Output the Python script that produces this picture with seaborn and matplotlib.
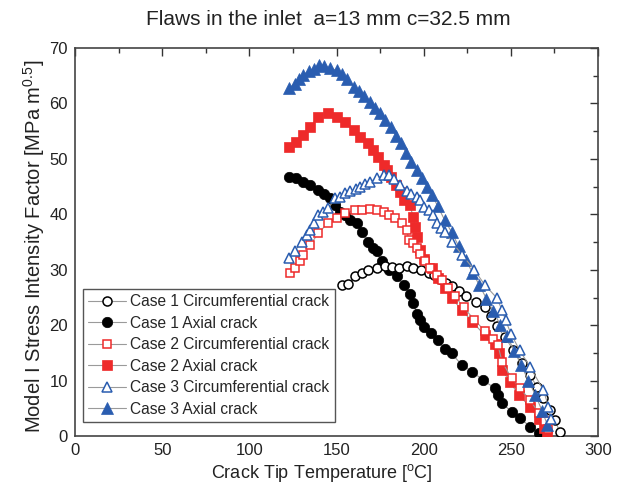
import matplotlib
matplotlib.use("Agg")
import matplotlib.pyplot as plt
from matplotlib.ticker import MultipleLocator
import seaborn as sns
import pandas as pd

# Case 1 circumferential crack
c1_circ_T = [153, 156.8, 160.6, 164.5, 168.3, 173, 178, 182, 186, 190.3, 194, 198.5, 203, 206,
             209.5, 213, 216.5, 220, 224.5, 230, 235, 238.5, 242, 246.5, 251.5, 256.3, 261, 265,
             268.7, 272.5, 275.5, 278]
c1_circ_K = [27.3, 27.4, 28.8, 29.4, 29.9, 30.3, 30.6, 30.5, 30.4, 30.6, 30.3, 30.0, 29.4, 29.0,
             28.3, 27.6, 27.0, 26.2, 25.2, 24.2, 23.2, 21.6, 19.8, 17.9, 15.5, 13.1, 11.0, 8.9,
             6.8, 4.7, 2.9, 0.7]

# Case 1 axial crack
c1_ax_T = [123, 127, 131, 135, 139.5, 143, 146, 149, 152, 155, 158, 161.5, 164.5, 168, 171, 173,
           176, 180, 184.5, 188.5, 192, 194, 196, 198, 200, 204, 208, 212, 216, 222, 228, 234,
           241, 242.5, 245, 250.5, 255.5, 261, 266]
c1_ax_K = [46.8, 46.5, 45.9, 45.3, 44.4, 43.7, 43.0, 41.6, 40.5, 39.8, 39.0, 38.4, 36.9, 35.1,
           34.0, 33.3, 31.5, 30.0, 28.8, 27.3, 25.6, 24.0, 22.1, 20.9, 19.7, 18.6, 17.4, 15.7,
           14.9, 12.8, 11.6, 10.1, 8.6, 7.4, 5.9, 4.4, 3.2, 1.7, 0.5]

# Case 2 circumferential crack
c2_circ_T = [123.3, 126, 129, 131, 135, 139.5, 145, 150, 155, 160.5, 164.5, 169, 173, 177, 180,
             183.5, 187.5, 190.3, 191.5, 194, 196, 198, 201, 203.7, 207.5, 210.5, 214, 218, 223,
             229, 235, 240, 242.5, 245, 250.5, 255.3, 261, 266, 269.5, 271.5]
c2_circ_K = [29.4, 30.3, 31.5, 32.7, 34.5, 36.6, 38.4, 39.3, 40.2, 40.8, 40.8, 40.9, 40.8, 40.5,
             39.9, 39.3, 38.4, 37.2, 35.4, 34.8, 33.9, 32.8, 31.5, 30.3, 29.1, 28.2, 26.8, 25.2,
             23.2, 21.0, 19.0, 17.5, 16.5, 13.4, 10.4, 8.6, 6.5, 4.2, 2.8, 1.2]

# Case 2 axial crack
c2_ax_T = [123, 127, 131, 135, 139.5, 145, 150, 155, 160, 163.5, 168, 171, 174, 177, 179, 181.5,
           184, 186.5, 189, 192, 194, 195, 196, 198, 200, 204.5, 208.5, 212.5, 216, 222, 228, 235,
           241, 243, 245, 249.5, 254.5, 261, 266, 269, 270.5]
c2_ax_K = [52.2, 53.1, 54.3, 55.8, 57.6, 58.2, 57.6, 56.7, 55.2, 54.0, 52.8, 51.6, 50.4, 48.9,
           48.0, 46.8, 45.3, 44.0, 42.6, 41.7, 39.6, 37.8, 36.0, 33.6, 32.0, 30.3, 28.5, 26.7,
           24.9, 22.7, 20.6, 18.2, 16.7, 14.9, 11.9, 9.8, 7.4, 5.3, 3.0, 1.5, 0.3]

# Case 3 circumferential crack
c3_circ_T = [122.5, 126, 130, 133, 134.8, 137, 139.6, 142.5, 145.3, 149.2, 152, 155, 158, 161,
             163.5, 166.5, 169.2, 173, 177, 180, 183, 186.5, 190.3, 193, 196, 198, 200, 203,
             205.6, 207.5, 210, 212.3, 216, 222, 229, 235, 242, 245, 247, 250, 255, 261, 268.7,
             271.6, 273]
c3_circ_K = [32.1, 33.3, 35.1, 36.2, 37.2, 38.5, 39.9, 40.4, 41.1, 42.9, 43.2, 43.8, 44.2, 44.6,
             45.0, 45.4, 45.9, 46.5, 47.1, 47.1, 46.3, 45.3, 44.2, 43.6, 43.2, 42.6, 41.4, 40.8,
             39.9, 38.4, 37.6, 36.9, 35.1, 32.7, 30.0, 27.3, 24.9, 22.7, 20.9, 18.5, 15.5, 12.5,
             8.3, 5.3, 3.0]

# Case 3 axial crack
c3_ax_T = [123, 126, 128.5, 131, 134, 137, 140, 143, 146, 150, 153, 156, 160, 163, 166, 169, 172,
           175, 178, 181, 184, 187, 190, 193, 196, 199, 202, 205, 208, 212, 216, 220, 224, 228,
           232, 236, 240, 244, 248, 252, 256, 260, 264, 268, 271]
c3_ax_K = [62.8, 63.6, 64.4, 65.2, 65.8, 66.3, 67.0, 66.8, 66.4, 66.0, 65.3, 64.5, 63.0, 62.2,
           61.4, 60.3, 59.2, 58.2, 57.0, 55.8, 54.2, 52.9, 51.0, 49.5, 48.0, 46.6, 45.0, 43.4,
           41.5, 39.0, 36.8, 34.3, 31.8, 29.5, 27.2, 24.8, 22.5, 20.0, 18.0, 15.3, 12.8, 10.0,
           7.5, 4.5, 2.0]

labels = ["Case 1 Circumferential crack", "Case 1 Axial crack",
          "Case 2 Circumferential crack", "Case 2 Axial crack",
          "Case 3 Circumferential crack", "Case 3 Axial crack"]

series = [
    (c1_circ_T, c1_circ_K), (c1_ax_T, c1_ax_K),
    (c2_circ_T, c2_circ_K), (c2_ax_T, c2_ax_K),
    (c3_circ_T, c3_circ_K), (c3_ax_T, c3_ax_K),
]

black = "#000000"
red = "#ee2a2a"
blue = "#2a5db0"
styles = [
    dict(marker="o", ms=6.5, mfc="white", mec=black, mew=1.1),
    dict(marker="o", ms=7.5, mfc=black, mec=black, mew=0.5),
    dict(marker="s", ms=6.0, mfc="white", mec=red, mew=1.1),
    dict(marker="s", ms=6.5, mfc=red, mec=red, mew=0.5),
    dict(marker="^", ms=7.5, mfc="white", mec=blue, mew=1.1),
    dict(marker="^", ms=8.0, mfc=blue, mec=blue, mew=0.5),
]
# axial series underneath, circumferential on top
zorders = [4, 3, 6, 5, 8, 7]

frames = []
for lab, (t, k) in zip(labels, series):
    frames.append(pd.DataFrame({"T": t, "K": k, "series": lab}))
df = pd.concat(frames, ignore_index=True)

sns.set_style("white")
plt.rcParams["font.family"] = ["Liberation Sans", "DejaVu Sans"]
plt.rcParams["mathtext.fontset"] = "custom"
plt.rcParams["mathtext.rm"] = "Liberation Sans"

fig = plt.figure(figsize=(6.17, 4.90), dpi=100)
ax = fig.add_axes([0.1216, 0.110, 0.8476, 0.792])

for lab, st, z in zip(labels, styles, zorders):
    sub = df[df["series"] == lab]
    sns.lineplot(data=sub, x="T", y="K", ax=ax, sort=False, estimator=None,
                 color="#9a9a9a", lw=0.8, marker=st["marker"], markersize=st["ms"],
                 markerfacecolor=st["mfc"], markeredgecolor=st["mec"],
                 markeredgewidth=st["mew"], label=lab, zorder=z)

ax.set_xlim(0, 300)
ax.set_ylim(0, 70)
ax.xaxis.set_major_locator(MultipleLocator(50))
ax.xaxis.set_minor_locator(MultipleLocator(25))
ax.yaxis.set_major_locator(MultipleLocator(10))
ax.yaxis.set_minor_locator(MultipleLocator(5))
ax.tick_params(which="both", direction="in", top=True, right=True, colors="#333333",
               labelcolor="#222222", labelsize=12)
ax.tick_params(which="major", length=6, width=1.0, pad=5)
ax.tick_params(which="minor", length=3.5, width=1.0)
for sp in ax.spines.values():
    sp.set_color("#444444")
    sp.set_linewidth(1.2)

ax.set_xlabel(r"Crack Tip Temperature [$^{\mathrm{o}}$C]", fontsize=13, color="#222222", labelpad=3)
ax.xaxis.label.set_x(0.472)
ax.set_ylabel(r"Model I Stress Intensity Factor [MPa m$^{0.5}$]", fontsize=14.5,
              color="#222222", labelpad=2)
ax.yaxis.label.set_y(0.49)
fig.suptitle("Flaws in the inlet  a=13 mm c=32.5 mm", x=0.532, y=0.98, fontsize=15,
             color="#222222")

h, l = ax.get_legend_handles_labels()
leg = ax.legend(h, l, loc="lower left", bbox_to_anchor=(0.015, 0.036), fontsize=11.2,
                frameon=True, fancybox=False, framealpha=1, edgecolor="#555555",
                handlelength=2.4, handletextpad=0.3, labelspacing=0.42, borderpad=0.35,
                borderaxespad=0)
leg.get_frame().set_linewidth(1.0)
leg.set_zorder(10)

fig.savefig("out.png", dpi=100)
